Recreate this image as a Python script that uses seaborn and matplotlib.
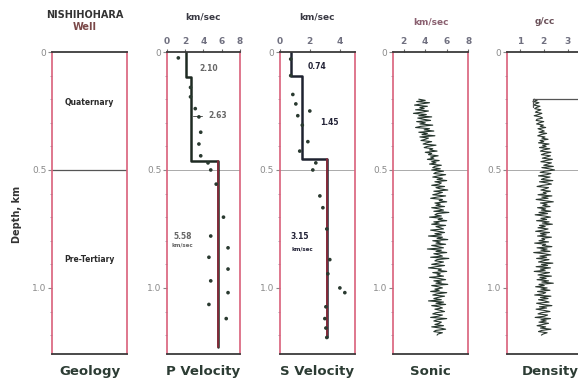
import numpy as np
import pandas as pd
import matplotlib
matplotlib.use("Agg")
import matplotlib.pyplot as plt
from matplotlib.ticker import MultipleLocator
import seaborn as sns

sns.set_theme(style="white")
plt.rcParams["font.family"] = ["DejaVu Sans"]

# ---- P-wave interval velocities (layer top / bottom depth in km, velocity km/s)
p_top = [0.0, 0.105, 0.46]
p_bot = [0.105, 0.46, 1.25]
p_vel = [2.10, 2.63, 5.58]
p_labels = ["2.10", "2.63", "5.58"]
# individual P-wave measurements
p_pt_depth = [0.025, 0.15, 0.19, 0.24, 0.275, 0.34, 0.39, 0.44, 0.47, 0.50,
              0.56, 0.70, 0.78, 0.83, 0.87, 0.92, 0.97, 1.02, 1.07, 1.13]
p_pt_vel = [1.24, 2.58, 2.58, 3.1, 3.5, 3.7, 3.5, 3.7, 4.5, 4.8,
            5.4, 6.2, 4.8, 6.7, 4.6, 6.7, 4.8, 6.7, 4.6, 6.5]

# ---- S-wave interval velocities
s_top = [0.0, 0.10, 0.455]
s_bot = [0.10, 0.455, 1.21]
s_vel = [0.74, 1.45, 3.15]
s_labels = ["0.74", "1.45", "3.15"]
s_pt_depth = [0.03, 0.10, 0.18, 0.22, 0.25, 0.27, 0.31, 0.38, 0.42, 0.47, 0.50,
              0.61, 0.66, 0.75, 0.88, 0.94, 1.00, 1.02, 1.08, 1.13, 1.17, 1.21]
s_pt_vel = [0.73, 0.73, 0.87, 1.07, 2.0, 1.2, 1.5, 1.87, 1.33, 2.4, 2.2,
            2.67, 2.87, 3.13, 3.33, 3.2, 4.0, 4.33, 3.07, 3.0, 3.07, 3.13]

# ---- Sonic log (km/s), sampled every 5 m from 0.20 km
sonic_start, sonic_step = 0.20, 0.005
sonic = [3.4, 4.0, 3.2, 4.4, 3.6, 3.0, 4.2, 3.5, 3.9, 3.1,
         4.3, 3.7, 2.9, 4.1, 3.4, 4.6, 3.3, 3.8, 4.5, 3.2,
         4.0, 3.5, 4.7, 3.6, 3.1, 4.4, 3.9, 4.8, 3.4, 4.2,
         3.7, 4.9, 3.5, 4.3, 4.0, 3.6, 4.6, 4.1, 3.8, 5.0,
         4.2, 3.9, 4.7, 4.4, 5.1, 4.0, 4.6, 4.3, 5.2, 4.5,
         4.8, 4.2, 5.3, 4.6, 5.0, 4.4, 5.5, 4.9, 4.7, 5.4,
         4.6, 5.7, 5.0, 4.8, 5.9, 5.2, 4.7, 5.6, 5.1, 6.0,
         4.9, 5.5, 5.3, 4.6, 5.8, 5.0, 5.4, 6.1, 4.8, 5.6,
         5.2, 4.7, 5.9, 5.1, 4.5, 5.6, 5.3, 6.0, 4.9, 5.4,
         5.0, 5.8, 4.6, 5.3, 5.7, 4.8, 6.2, 5.1, 4.9, 5.5,
         4.4, 5.6, 5.2, 6.0, 4.8, 5.3, 4.6, 5.9, 5.0, 5.4,
         5.7, 4.5, 5.2, 5.8, 4.9, 5.5, 4.3, 5.6, 5.1, 6.1,
         4.7, 5.4, 5.0, 5.9, 4.6, 5.2, 5.7, 4.2, 5.5, 5.0,
         6.0, 4.8, 5.3, 5.6, 4.5, 6.2, 5.1, 4.9, 5.7, 5.2,
         4.6, 5.8, 5.0, 4.3, 5.5, 5.2, 6.0, 4.7, 5.4, 5.1,
         5.7, 4.4, 5.3, 5.9, 4.8, 5.5, 5.0, 6.1, 4.6, 5.2,
         5.6, 4.9, 5.3, 4.5, 6.0, 5.1, 4.7, 5.8, 5.2, 4.8,
         5.5, 4.3, 5.7, 5.0, 5.9, 4.6, 5.3, 5.6, 4.9, 5.4,
         5.8, 5.0, 4.7, 5.6, 5.2, 4.5, 6.0, 5.1, 4.8, 5.5,
         5.3, 4.9, 5.7, 4.6, 5.4, 5.9, 5.0, 4.8, 5.6, 5.2,
         5.1]

# ---- Density log (g/cc), sampled every 5 m from 0.20 km
dens_start, dens_step = 0.20, 0.005
density = [1.60, 1.72, 1.55, 1.80, 1.66, 1.58, 1.84, 1.70, 1.62, 1.88,
           1.74, 1.65, 1.92, 1.78, 1.60, 1.86, 1.95, 1.72, 1.68, 2.00,
           1.82, 1.70, 1.98, 1.85, 2.08, 1.76, 1.90, 2.02, 1.80, 2.12,
           1.88, 1.75, 2.05, 1.92, 2.18, 1.84, 2.00, 1.78, 2.22, 1.95,
           2.10, 1.82, 2.25, 1.98, 1.86, 2.30, 2.04, 1.90, 2.28, 2.12,
           1.94, 2.36, 2.08, 1.88, 2.32, 2.16, 2.00, 2.40, 1.92, 2.22,
           2.45, 2.05, 1.85, 2.30, 2.12, 1.78, 2.26, 2.02, 1.90, 2.38,
           1.82, 2.15, 2.32, 1.95, 1.72, 2.20, 2.06, 1.88, 2.28, 1.98,
           2.10, 1.76, 2.34, 1.92, 2.18, 1.68, 2.04, 2.40, 1.86, 2.14,
           1.96, 2.26, 1.74, 2.08, 1.90, 2.30, 1.80, 2.16, 1.64, 2.02,
           2.28, 1.88, 2.12, 1.70, 2.22, 1.94, 2.36, 1.82, 2.06, 1.76,
           2.18, 1.98, 1.66, 2.24, 1.86, 2.10, 1.74, 2.32, 1.92, 2.04,
           1.80, 2.20, 1.62, 2.08, 1.94, 2.34, 1.72, 2.14, 1.88, 2.26,
           1.58, 2.02, 2.30, 1.84, 2.12, 1.70, 2.22, 1.96, 1.78, 2.38,
           1.90, 2.16, 1.68, 2.28, 1.86, 2.06, 1.60, 2.24, 1.98, 1.76,
           2.32, 1.84, 2.10, 1.72, 2.20, 1.92, 2.40, 1.80, 2.02, 1.66,
           2.14, 1.88, 2.26, 1.74, 2.08, 1.96, 1.62, 2.30, 1.86, 2.18,
           1.78, 2.04, 2.22, 1.70, 1.94, 2.34, 1.82, 2.12, 1.68, 2.00,
           2.26, 1.90, 1.76, 2.16, 2.02, 1.64, 2.28, 1.88, 2.10, 1.80,
           2.20, 1.96, 1.72, 2.08, 1.86, 2.30, 1.92, 1.78, 2.14, 1.98,
           1.90]
dens_top_depth = 0.20

# ---- Geology units
geo_names = ["Quaternary", "Pre-Tertiary"]
geo_label_depth = [0.216, 0.88]
boundary_depth = 0.5

track_titles = ["Geology", "P Velocity", "S Velocity", "Sonic", "Density"]
track_units = ["", "km/sec", "km/sec", "km/sec", "g/cc"]

DMAX = 1.28
fig = plt.figure(figsize=(5.78, 3.89), dpi=100)
fig.patch.set_facecolor("white")

bottom, height = 0.09, 0.7763
lefts = [0.090, 0.289, 0.484, 0.680, 0.877]
widths = [0.130, 0.126, 0.130, 0.130, 0.130]
xlims = [(0, 1), (0, 8), (0, 5), (1, 8), (0.46, 3.6)]
xticks = [[], [0, 2, 4, 6, 8], [0, 2, 4], [2, 4, 6, 8], [1, 2, 3]]
unit_y = [0, 1.116, 1.116, 1.10, 1.10]
unit_colors = ["#333", "#3a3a44", "#3a3a44", "#8a6070", "#6a5058"]

axes = []
for i in range(5):
    ax = fig.add_axes([lefts[i], bottom, widths[i], height])
    ax.set_xlim(*xlims[i])
    ax.set_ylim(DMAX, 0)
    ax.set_facecolor("white")
    for side in ("left", "right"):
        ax.spines[side].set_color("#d9607a")
        ax.spines[side].set_linewidth(1.2)
    for side in ("top", "bottom"):
        ax.spines[side].set_color("#3a3a3a")
        ax.spines[side].set_linewidth(1.3)
    ax.set_yticks([0, 0.5, 1.0])
    ax.set_yticklabels(["0", "0.5", "1.0"])
    ax.yaxis.set_minor_locator(MultipleLocator(0.1))
    ax.tick_params(axis="y", which="major", left=True, length=3, width=0.8,
                   color="#888", labelsize=6.5, labelcolor="#8a8a8a", pad=1)
    ax.tick_params(axis="y", which="minor", left=True, length=1.5, width=0.6,
                   color="#99a")
    ax.xaxis.tick_top()
    ax.set_xticks(xticks[i])
    ax.set_xticklabels([str(t) for t in xticks[i]])
    ax.tick_params(axis="x", top=True, length=2, width=0.8, color="#666",
                   labelsize=6.5, labelcolor="#707080", pad=2)
    for lab in ax.get_xticklabels():
        lab.set_fontweight("bold")
    ax.axhline(boundary_depth, color="#555" if i == 0 else "#aaa",
               lw=0.9 if i == 0 else 0.7, zorder=0)
    if track_units[i]:
        ax.text(0.5, unit_y[i], track_units[i], transform=ax.transAxes,
                ha="center", va="center", fontsize=6.5, fontweight="bold",
                color=unit_colors[i])
    fig.text(lefts[i] + widths[i] / 2 if i < 4 else 0.952, 0.044,
             track_titles[i], ha="center", va="center", fontsize=9.5,
             fontweight="bold", color="#2c3c34")
    axes.append(ax)

# Geology track
ax = axes[0]
for name, d in zip(geo_names, geo_label_depth):
    ax.text(0.5, d, name, ha="center", va="center", fontsize=5.5,
            fontweight="bold", color="#2a2a2a")
fig.text(0.147, 0.962, "NISHIHOHARA", ha="center", va="center",
         fontsize=7, fontweight="bold", color="#333")
fig.text(0.147, 0.930, "Well", ha="center", va="center",
         fontsize=7, fontweight="bold", color="#7a4848")
fig.text(0.03, 0.45, "Depth, km", rotation=90, ha="center", va="center",
         fontsize=7, fontweight="bold", color="#333")


def layer_profile(tops, bots, vels):
    dep, vel = [], []
    for t, b, v in zip(tops, bots, vels):
        dep += [t, b]
        vel += [v, v]
    return pd.DataFrame({"depth": dep, "vel": vel})


def draw_velocity(ax, tops, bots, vels, pt_vel, pt_depth, line_color):
    prof = layer_profile(tops, bots, vels)
    sns.lineplot(data=prof, x="vel", y="depth", sort=False, estimator=None,
                 color=line_color, lw=1.8, ax=ax)
    deep = layer_profile(tops[-1:], bots[-1:], vels[-1:])
    sns.lineplot(data=deep, x="vel", y="depth", sort=False, estimator=None,
                 color="#8a2a3a", lw=1.3, ax=ax)
    sns.scatterplot(x=pt_vel, y=pt_depth, s=7, color="#2a3a30",
                    edgecolor="none", ax=ax, zorder=4)


# P velocity track
ax = axes[1]
draw_velocity(ax, p_top, p_bot, p_vel, p_pt_vel, p_pt_depth, "#1e2a22")
ax.text(4.6, 0.068, p_labels[0], ha="center", va="center", fontsize=5.5,
        fontweight="bold", color="#666")
ax.plot([p_vel[1] + 0.2, 3.8], [0.27, 0.27], color="#555", lw=0.7)
ax.text(5.6, 0.27, p_labels[1], ha="center", va="center", fontsize=5.5,
        fontweight="bold", color="#666")
ax.text(1.7, 0.78, p_labels[2], ha="center", va="center", fontsize=5.5,
        fontweight="bold", color="#666")
ax.text(1.7, 0.82, "km/sec", ha="center", va="center", fontsize=4,
        fontweight="bold", color="#666")

# S velocity track
ax = axes[2]
draw_velocity(ax, s_top, s_bot, s_vel, s_pt_vel, s_pt_depth, "#1e2230")
ax.text(2.47, 0.06, s_labels[0], ha="center", va="center", fontsize=5.5,
        fontweight="bold", color="#222236")
ax.text(3.33, 0.30, s_labels[1], ha="center", va="center", fontsize=5.5,
        fontweight="bold", color="#222236")
ax.text(1.33, 0.78, s_labels[2], ha="center", va="center", fontsize=5.5,
        fontweight="bold", color="#222236")
ax.text(1.53, 0.835, "km/sec", ha="center", va="center", fontsize=4,
        fontweight="bold", color="#222236")

# Sonic track
ax = axes[3]
sonic_depth = sonic_start + sonic_step * np.arange(len(sonic))
sns.lineplot(x=sonic, y=sonic_depth, sort=False, estimator=None,
             color="#25352c", lw=0.8, ax=ax)

# Density track
ax = axes[4]
dens_depth = dens_start + dens_step * np.arange(len(density))
sns.lineplot(x=density, y=dens_depth, sort=False, estimator=None,
             color="#2c3830", lw=0.8, ax=ax)
ax.plot([density[0] - 0.05, xlims[4][1]], [dens_top_depth, dens_top_depth],
        color="#555", lw=0.9)
ax.plot([density[0] - 0.05, density[0] - 0.05],
        [dens_top_depth, dens_top_depth + 0.035], color="#555", lw=0.9)

for ax in axes:
    ax.set_xlabel("")
    ax.set_ylabel("")
    leg = ax.get_legend()
    if leg is not None:
        leg.remove()

fig.savefig("out.png", dpi=100, facecolor="white")
